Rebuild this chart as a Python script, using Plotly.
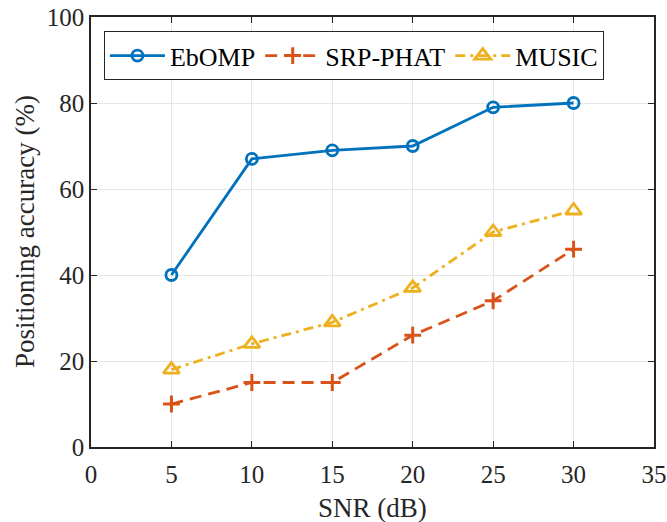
import plotly.graph_objects as go

snr = [5, 10, 15, 20, 25, 30]
ebomp = [40, 67, 69, 70, 79, 80]
srp_phat = [10, 15, 15, 26, 34, 46]
music = [18, 24, 29, 37, 50, 55]

x_ticks = [0, 5, 10, 15, 20, 25, 30, 35]
y_ticks = [0, 20, 40, 60, 80, 100]

FONT = "Liberation Serif"
TXT = "#262626"

fig = go.Figure()
fig.add_trace(go.Scatter(x=snr, y=ebomp, name="EbOMP", mode="lines+markers",
                         line=dict(color="#0072BD", width=2.8, dash="solid"),
                         marker=dict(symbol="circle-open", size=11, line=dict(width=2.8, color="#0072BD"))))
fig.add_trace(go.Scatter(x=snr, y=srp_phat, name="SRP-PHAT", mode="lines+markers",
                         line=dict(color="#D95319", width=2.8, dash="12px,7px"),
                         marker=dict(symbol="cross-thin-open", size=12, line=dict(width=3, color="#D95319"))))
fig.add_trace(go.Scatter(x=snr, y=music, name="MUSIC", mode="lines+markers",
                         line=dict(color="#EDB120", width=2.8, dash="10px,5px,3px,5px"),
                         marker=dict(symbol="triangle-up-open", size=14, line=dict(width=2.8, color="#EDB120"))))

axis_common = dict(showline=True, linecolor=TXT, linewidth=1.5, mirror="ticks",
                   ticks="inside", ticklen=6, tickcolor=TXT, tickwidth=1,
                   showgrid=True, gridcolor="#E6E6E6", gridwidth=1, zeroline=False,
                   automargin=False, ticklabeloverflow="allow",
                   tickfont=dict(family=FONT, size=25, color=TXT))

fig.update_xaxes(range=[0, 35], tickvals=x_ticks, ticklabelstandoff=4, **axis_common)
fig.update_yaxes(range=[0, 100], tickvals=y_ticks, **axis_common)

fig.add_annotation(text="SNR (dB)", xref="paper", yref="paper", x=0.5, y=0,
                   xanchor="center", yanchor="middle", yshift=-61, showarrow=False,
                   font=dict(family=FONT, size=27, color=TXT))
fig.add_annotation(text="Positioning accuracy (%)", xref="paper", yref="paper", x=0, y=0.5,
                   xanchor="center", yanchor="middle", xshift=-66, textangle=-90, showarrow=False,
                   font=dict(family=FONT, size=27, color=TXT))

fig.update_layout(
    width=667, height=522,
    margin=dict(l=91, r=13, t=17, b=75),
    plot_bgcolor="white", paper_bgcolor="white",
    font=dict(family=FONT, size=25, color="#000000"),
    legend=dict(orientation="h", x=0.023, y=0.967, xanchor="left", yanchor="top",
                bgcolor="white", bordercolor=TXT, borderwidth=1,
                font=dict(family=FONT, size=26, color="#000000"),
                itemwidth=55, tracegroupgap=0),
    showlegend=True,
)

fig.write_html("out.html", config={"displayModeBar": False},
               post_script="document.body.style.margin='0';document.body.style.overflow='hidden';")
